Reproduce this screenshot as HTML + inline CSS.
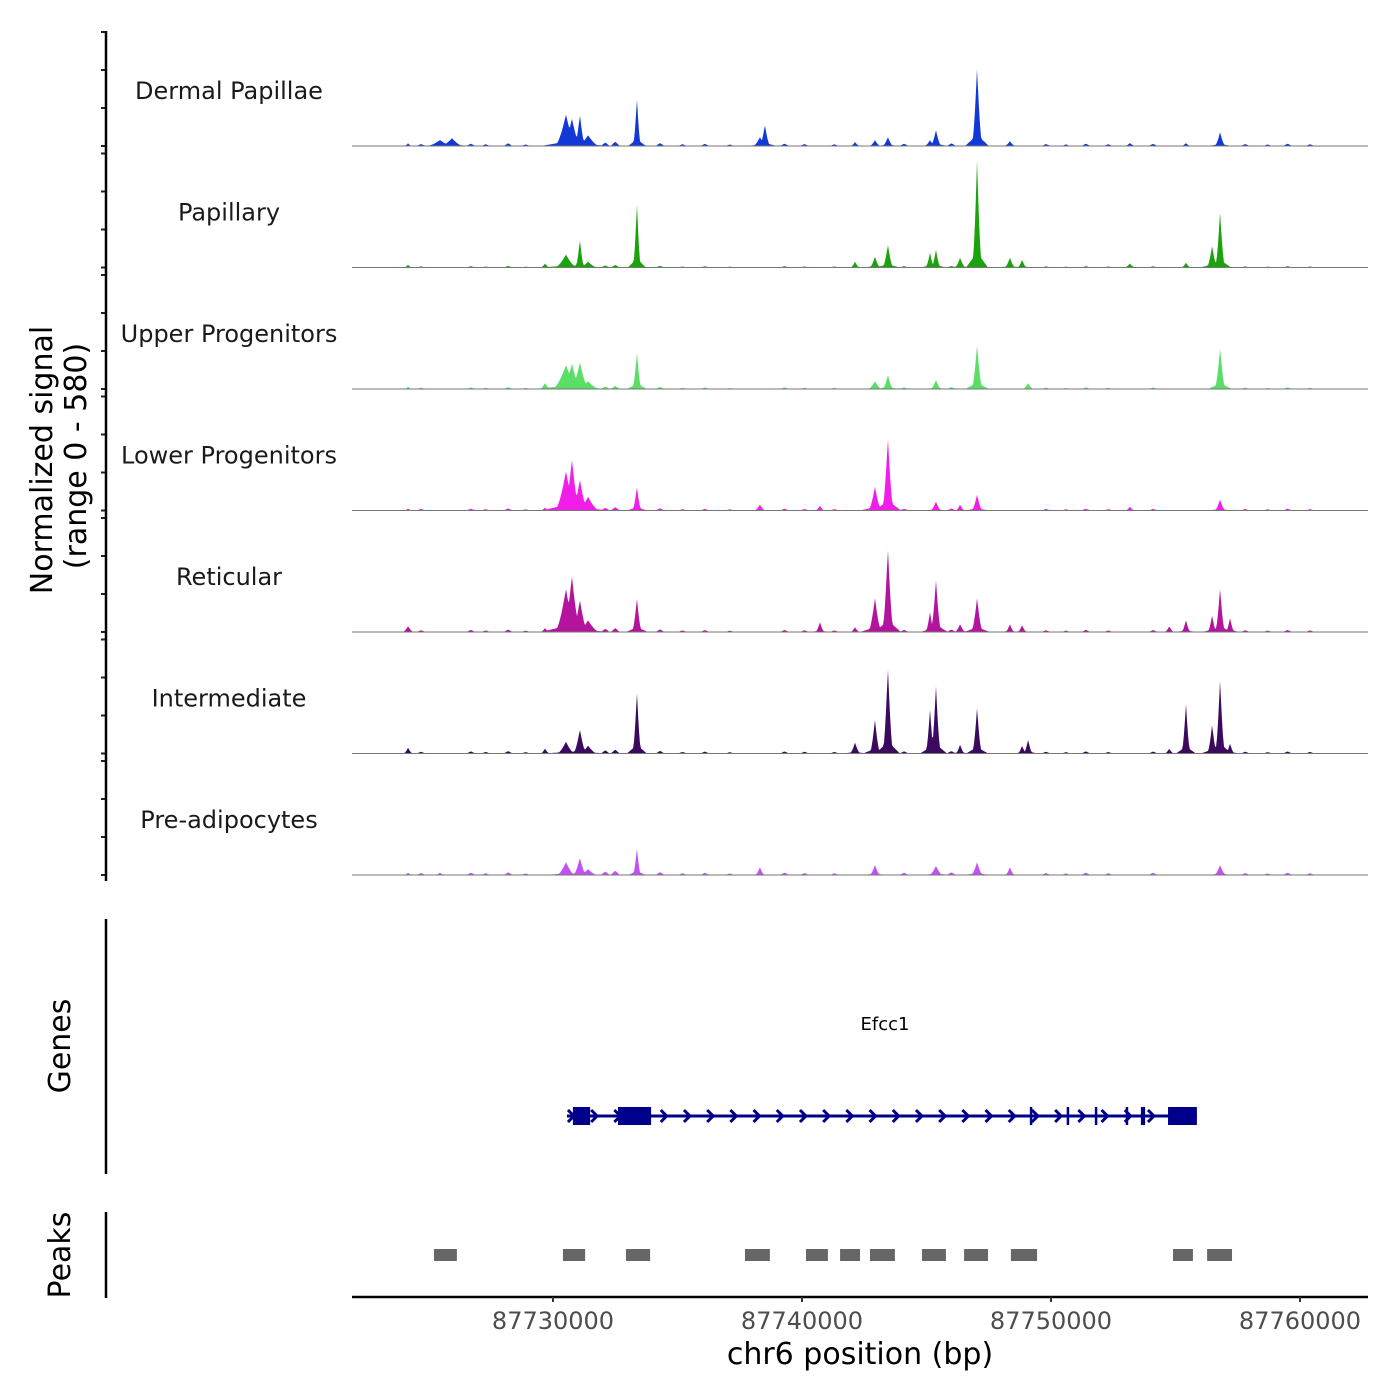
<!DOCTYPE html>
<html><head><meta charset="utf-8"><style>
html,body{margin:0;padding:0;background:#fff;}
svg{display:block;font-family:"DejaVu Sans","Liberation Sans",sans-serif;}
</style></head><body>
<svg id="chart" width="1400" height="1400" viewBox="0 0 1400 1400" xmlns="http://www.w3.org/2000/svg">
<g id="tracks"></g>
<g id="genes"></g>
<g id="peaks"></g>
<g id="axes"></g>
</svg>
<script>
const trackNames = ["Dermal Papillae","Papillary","Upper Progenitors","Lower Progenitors","Reticular","Intermediate","Pre-adipocytes"];
const trackColors = ["#1238d8","#1aa30c","#5ade66","#f01ee8","#b4139e","#3b0a5e","#c250f2"];
// peaks: [position bp, signal, half-width bp]
const peaksDermal = [[87724180,14,80],[87725460,30,300],[87725940,40,250],[87730520,160,250],[87730760,140,200],[87731080,160,120],[87731410,55,250],[87733370,244,90],[87738310,45,150],[87738510,107,120],[87742130,20,100],[87742930,30,120],[87743450,45,120],[87745140,30,120],[87745380,81,120],[87747030,397,120],[87748350,25,120],[87753170,15,120],[87755420,15,100],[87756790,71,120]];
const peaksPapillary = [[87724180,15,80],[87729680,20,100],[87730520,66,250],[87731080,142,100],[87731410,30,200],[87733370,330,90],[87742130,30,100],[87742930,55,120],[87743450,117,120],[87745140,76,100],[87745380,92,100],[87746350,50,120],[87747030,550,110],[87748350,50,120],[87748840,40,100],[87753170,20,120],[87755420,25,100],[87756470,112,120],[87756790,285,110]];
const peaksUpper = [[87724180,12,80],[87729680,30,120],[87730520,122,300],[87730760,130,200],[87731080,137,200],[87731410,40,250],[87733370,188,100],[87742930,40,150],[87743450,71,120],[87745380,46,120],[87747030,224,120],[87749080,30,120],[87756790,209,120]];
const peaksLower = [[87724180,10,80],[87729680,15,100],[87730520,200,250],[87730760,260,180],[87731080,158,180],[87731410,70,250],[87733370,122,100],[87738310,30,120],[87740720,25,100],[87742930,122,150],[87743450,371,130],[87745380,46,120],[87746350,30,100],[87747030,81,120],[87753170,20,100],[87756790,56,120]];
const peaksReticular = [[87724180,30,120],[87729680,20,100],[87730520,220,250],[87730760,285,200],[87731080,163,180],[87731410,60,250],[87733370,173,110],[87740720,51,100],[87742130,25,100],[87742930,173,150],[87743450,427,130],[87745140,102,100],[87745380,265,120],[87746350,40,120],[87747030,173,130],[87748350,40,100],[87748840,35,100],[87754750,30,100],[87755420,61,100],[87756470,86,100],[87756790,224,110],[87757190,71,100]];
const peaksIntermediate = [[87724180,30,100],[87729680,25,100],[87730520,60,200],[87731080,122,150],[87731410,40,200],[87733370,316,100],[87742130,56,120],[87742930,173,120],[87743450,438,120],[87745140,224,100],[87745380,346,110],[87746350,46,100],[87747030,234,110],[87748840,40,100],[87749080,71,100],[87754750,25,100],[87755420,255,100],[87756470,148,110],[87756790,377,110],[87757190,50,100]];
const peaksPreadipo = [[87724180,12,80],[87725460,12,100],[87730520,66,200],[87731080,87,150],[87731410,30,200],[87733370,137,90],[87738310,40,100],[87742930,51,120],[87745380,46,150],[87747030,66,130],[87748350,40,100],[87756790,51,130]];
const trackPeaks = [peaksDermal,peaksPapillary,peaksUpper,peaksLower,peaksReticular,peaksIntermediate,peaksPreadipo];
const bgPositions = [87723700,87724700,87726700,87727300,87728200,87728900,87732100,87732500,87734300,87735200,87736100,87737100,87739300,87740100,87741300,87744100,87746000,87749800,87750600,87751400,87752300,87754100,87757800,87758700,87759500,87760400];
const bgValues = [8,10,12,9,14,8,18,22,15,9,11,8,12,10,9,12,14,10,8,12,9,11,10,8,12,9];
const xTicks = [87730000,87740000,87750000,87760000];
const geneStart = 87730560, geneEnd = 87755860;
const bigExons = [[87730800,87731490],[87732610,87733940],[87754700,87755860]];
const smallExons = [[87749150,87749250],[87750630,87750730],[87751760,87751860],[87753000,87753100],[87753610,87753780]];
const peakRegions = [[87725220,87726140],[87730400,87731290],[87732930,87733900],[87737710,87738710],[87740160,87741040],[87741530,87742330],[87742730,87743730],[87744820,87745780],[87746510,87747470],[87748390,87749440],[87754900,87755700],[87756270,87757270]];

const NS="http://www.w3.org/2000/svg";
const X0=352,X1=1368;
const xs = bp => 553 + (bp-87730000)*0.0249;
const ymax=580, trackH=114;
const base = i => 146 + 121.5*i;
function mk(tag,attrs,parent){const e=document.createElementNS(NS,tag);for(const k in attrs)e.setAttribute(k,attrs[k]);parent.appendChild(e);return e;}
const gT=document.getElementById('tracks');
trackNames.forEach((name,i)=>{
  const b=base(i);
  const g=mk('g',{},gT);
  
  
  const ys=v=>b - v/ymax*trackH;
  const pk=trackPeaks[i];
  const bgScale=[1,0.6,0.7,0.8,0.9,0.9,1][i];
  let d='M'+X0+','+b;
  for(let px=400;px<=1325;px+=1){
    const bp=87730000+(px-553)/0.0249;
    let v=0;
    pk.forEach(p=>{const t=1-Math.abs(bp-p[0])/(p[2]*1.8);if(t>0)v=Math.max(v,p[1]*Math.pow(t,1.6));});
    let s=0;
    pk.forEach(p=>{const t=1-Math.abs(bp-p[0])/(p[2]*4);if(t>0)s=Math.max(s,p[1]*0.14*t);});
    v=Math.max(v,s);
    bgPositions.forEach((q,k)=>{const t=1-Math.abs(bp-q)/180;if(t>0)v=Math.max(v,bgValues[k]*bgScale*t);});
    d+=' L'+px+','+ys(v).toFixed(1);
  }
  d+=' L1325,'+b+' Z';
  const path=mk('path',{d:d,fill:trackColors[i]},g);
  
  
  const bl=mk('line',{x1:X0,x2:X1,y1:b,y2:b,stroke:'#777','stroke-width':1},g);
  
  
  const lab=mk('text',{x:229,y:b-47,'text-anchor':'middle','font-size':24,fill:'#1a1a1a'},g);
  lab.textContent=name;
  
  
  for(let k=0;k<4;k++){
    const ty=b-38*k;
    const tk=mk('line',{x1:101,x2:106,y1:ty,y2:ty,stroke:'#222','stroke-width':2},g);
    
    
  }
});
const gA=document.getElementById('axes');
function line(a,name){const e=mk('line',a,gA);return e;}
function text(a,s,name){const e=mk('text',a,gA);e.textContent=s;return e;}
line({x1:106,x2:106,y1:31,y2:881,stroke:'#000','stroke-width':2.5},'signal-y-axis');
line({x1:106,x2:106,y1:919,y2:1174,stroke:'#000','stroke-width':2.5},'genes-y-axis');
line({x1:106,x2:106,y1:1212,y2:1298,stroke:'#000','stroke-width':2.5},'peaks-y-axis');
line({x1:X0,x2:X1,y1:1297,y2:1297,stroke:'#000','stroke-width':2.5},'x-axis-line');
xTicks.forEach(t=>{
  line({x1:xs(t),x2:xs(t),y1:1297,y2:1302,stroke:'#333','stroke-width':2},'x-tick');
  text({x:xs(t),y:1329,'text-anchor':'middle','font-size':24,fill:'#4d4d4d'},String(t),'x-tick-label');
});
text({x:860,y:1364,'text-anchor':'middle','font-size':30,fill:'#000'},'chr6 position (bp)','x-axis-title');
text({x:0,y:0,'text-anchor':'middle','font-size':30,fill:'#000',transform:'translate(52,460) rotate(-90)'},'Normalized signal','y-axis-title');
text({x:0,y:0,'text-anchor':'middle','font-size':30,fill:'#000',transform:'translate(86,456) rotate(-90)'},'(range 0 - 580)','y-axis-subtitle');
text({x:0,y:0,'text-anchor':'middle','font-size':30,fill:'#000',transform:'translate(70,1046) rotate(-90)'},'Genes','genes-axis-title');
text({x:0,y:0,'text-anchor':'middle','font-size':30,fill:'#000',transform:'translate(70,1255) rotate(-90)'},'Peaks','peaks-axis-title');

const gG=document.getElementById('genes');
const gy=1116;
const gl=mk('line',{x1:xs(geneStart),x2:xs(geneEnd),y1:gy,y2:gy,stroke:'#00008b','stroke-width':3},gG);


for(let px=xs(geneStart)+4;px<xs(geneEnd)-8;px+=23.2){
  const a=mk('path',{d:`M${px-3},${gy-6} L${px+3},${gy} L${px-3},${gy+6}`,fill:'none',stroke:'#00008b','stroke-width':3},gG);
  
  
}
bigExons.forEach(e=>{
  const r=mk('rect',{x:xs(e[0]),y:gy-9,width:xs(e[1])-xs(e[0]),height:18,fill:'#00008b'},gG);
  
  
});
smallExons.forEach(e=>{
  const r=mk('rect',{x:xs(e[0]),y:gy-9,width:Math.max(2.5,xs(e[1])-xs(e[0])),height:18,fill:'#00008b'},gG);
  
  
});
const gn=mk('text',{x:885,y:1030,'text-anchor':'middle','font-size':18,fill:'#000'},gG);
gn.textContent='Efcc1';



const gP=document.getElementById('peaks');
peakRegions.forEach(p=>{
  const r=mk('rect',{x:xs(p[0]),y:1249,width:xs(p[1])-xs(p[0]),height:12,fill:'#666'},gP);
  
  
});
</script>
</body></html>
